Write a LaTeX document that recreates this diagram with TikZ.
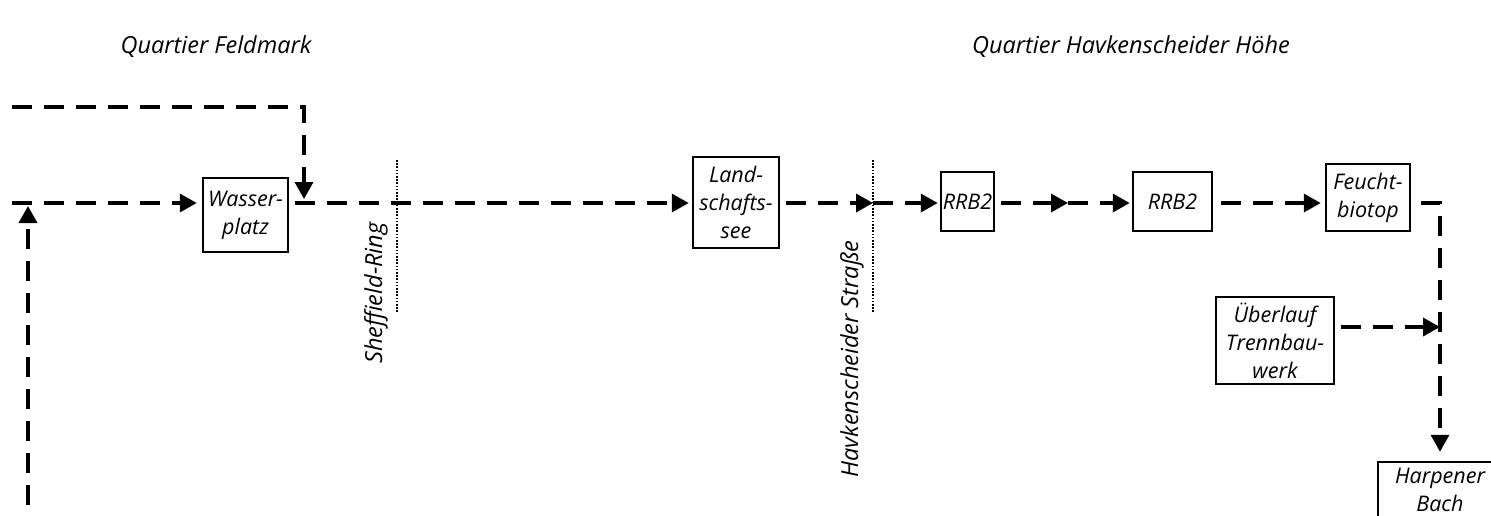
\documentclass[tikz,border=0pt]{standalone}
\usepackage{fontspec}
\setmainfont{Open Sans}
\usetikzlibrary{positioning,arrows.meta}
\newcommand{\boxfont}{\fontsize{21.5}{28}\selectfont\itshape}
\newcommand{\lblfont}{\fontsize{23.5}{28}\selectfont\itshape}
\tikzset{
  every picture/.style={line width=3.5pt},
  box/.style={draw,rectangle,line width=2.5pt,inner sep=1pt,align=center,font=\boxfont},
  pipe/.style={dash pattern=on 20pt off 12pt},
  flow/.style={pipe,-{Triangle[length=17pt,width=18pt]}},
  road/.style={line width=2pt,dash pattern=on 1.6pt off 1.6pt},
  lbl/.style={font=\lblfont,inner sep=1pt},
}
\begin{document}
\begin{tikzpicture}[x=1pt,y=-1pt]
\useasboundingbox (0,0) rectangle (1491,515);
% district headings
\node[lbl] (qf) at (216,47) {Quartier Feldmark};
\node[lbl] (qh) at (1131,47) {Quartier Havkenscheider Höhe};
% basins and outlets
\node[box,minimum width=85pt,minimum height=74pt] (wasser) at (245.5,215) {Wasser-\\platz};
\node[box,minimum width=86pt,minimum height=91pt] (see) at (736,202.5) {Land-\\schafts-\\see};
\node[box,minimum width=53pt,minimum height=59pt] (rrba) at (967.5,201.5) {RRB2};
\node[box,minimum width=79pt,minimum height=59pt] (rrbb) at (1172.5,201.5) {RRB2};
\node[box,minimum width=84pt,minimum height=67pt] (biotop) at (1368,197.5) {Feucht-\\biotop};
\node[box,minimum width=118pt,minimum height=87pt] (ueber) at (1275,340.5) {Überlauf\\Trennbau-\\werk};
\node[box,minimum width=124pt,minimum height=56pt] (bach) at (1440,490) {Harpener\\Bach};
% roads
\draw[road] (397,160) -- (397,313);
\draw[road] (873,160) -- (873,313);
\node[lbl,rotate=90] (srl) at (376,293) {Sheffield-Ring};
\node[lbl,rotate=90] (hsl) at (852,359) {Havkenscheider Straße};
% flow points
\coordinate (ml) at (12,203);
\coordinate (tl) at (12,107);
\coordinate (j1) at (304,199);
\coordinate (bl) at (28,505);
\coordinate (j0) at (28,206);
\coordinate (hs) at (873,203);
\coordinate (mid) at (1068,203);
\coordinate (merge) at (1440,327);
% feeds from the west
\draw[flow] (tl) -| (j1);
\draw[flow] (bl) -- (j0);
% main line
\draw[flow,shorten >=5pt] (ml) -- (wasser.west |- ml);
\draw[flow,shorten <=6pt,shorten >=3pt] (wasser.east |- ml) -- (see.west |- ml);
\draw[flow,shorten <=6pt] (see.east |- ml) -- (hs);
\draw[flow,shorten >=2pt] (hs) -- (rrba.west |- ml);
\draw[flow,shorten <=6pt] (rrba.east |- ml) -- (mid);
\draw[flow,shorten >=2pt] (mid) -- (rrbb.west |- ml);
\draw[flow,shorten <=8pt,shorten >=4pt] (rrbb.east |- ml) -- (biotop.west |- ml);
\draw[flow,shorten <=10pt,shorten >=9pt] (biotop.east |- ml) -| (bach.north);
\draw[flow,shorten <=6pt] (ueber.east |- merge) -- (merge);
\end{tikzpicture}
\end{document}
